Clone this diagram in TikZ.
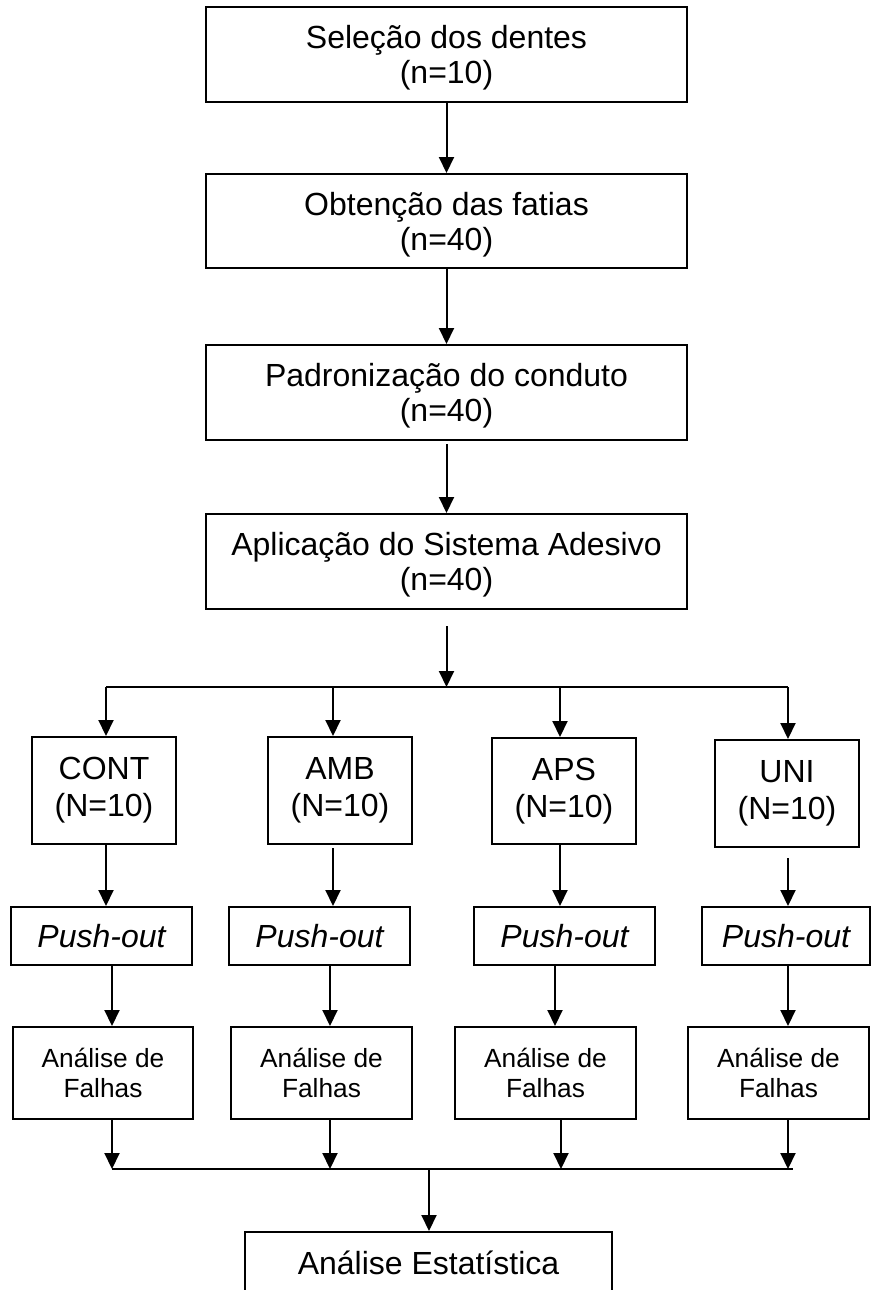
\documentclass[tikz,border=0pt]{standalone}
\usepackage{fontspec}
\setmainfont{Liberation Sans}
\usetikzlibrary{arrows.meta}
\begin{document}
\begin{tikzpicture}[x=1bp,y=-1bp,
  box/.style={draw=black, line width=2bp, inner sep=0pt, align=center, font=\fontsize{32bp}{37bp}\selectfont},
  mainbox/.style={box, font=\fontsize{32bp}{35bp}\selectfont, text depth=0pt},
  smallbox/.style={box, font=\fontsize{26.3bp}{30.6bp}\selectfont},
  arr/.style={line width=2bp, -{Triangle[width=15bp,length=16bp]}},
  ln/.style={line width=2bp}]
\clip (0,0) rectangle (872,1290);
% main column
\node[mainbox, minimum width=481bp, minimum height=95bp] (b1) at (446.5,54.5) {Seleção dos dentes\\(n=10)};
\node[mainbox, minimum width=481bp, minimum height=94bp] (b2) at (446.5,221) {Obtenção das fatias\\(n=40)};
\node[mainbox, minimum width=481bp, minimum height=95bp] (b3) at (446.5,392.5) {Padronização do conduto\\(n=40)};
\node[mainbox, minimum width=481bp, minimum height=95bp] (b4) at (446.5,561.5) {Aplicação do Sistema Adesivo\\(n=40)};
\draw[arr] (b1) -- (b2);
\draw[arr] (b2) -- (b3);
\draw[arr, shorten <=3bp] (b3) -- (b4);
% split
\coordinate (jt) at (446.5,687);
\coordinate (j1) at (106,687);
\coordinate (j2) at (333,687);
\coordinate (j3) at (560,687);
\coordinate (j4) at (788,687);
\draw[arr, shorten <=16bp] (b4.south) -- (jt);
\draw[ln] (j1) -- (j4);
% groups
\node[box, minimum width=144bp, minimum height=107bp] (g1) at (104,790.5) {CONT\\(N=10)};
\node[box, minimum width=144bp, minimum height=107bp] (g2) at (340,790.5) {AMB\\(N=10)};
\node[box, minimum width=144bp, minimum height=106bp] (g3) at (564,791) {APS\\(N=10)};
\node[box, minimum width=144bp, minimum height=107bp] (g4) at (787,793.5) {UNI\\(N=10)};
\draw[arr] (j1) -- (j1 |- g1.north);
\draw[arr] (j2) -- (j2 |- g2.north);
\draw[arr] (j3) -- (j3 |- g3.north);
\draw[arr] (j4) -- (j4 |- g4.north);
% push-out
\node[box, minimum width=181bp, minimum height=58bp] (p1) at (101.5,936) {\itshape Push-out};
\node[box, minimum width=181bp, minimum height=58bp] (p2) at (319.5,936) {\itshape Push-out};
\node[box, minimum width=181bp, minimum height=58bp] (p3) at (564.5,936) {\itshape Push-out};
\node[box, minimum width=168bp, minimum height=58bp] (p4) at (786,936) {\itshape Push-out};
\draw[arr] (j1 |- g1.south) -- (j1 |- p1.north);
\draw[arr, shorten <=3bp] (j2 |- g2.south) -- (j2 |- p2.north);
\draw[arr] (j3 |- g3.south) -- (j3 |- p3.north);
\draw[arr, shorten <=10bp] (j4 |- g4.south) -- (j4 |- p4.north);
% bottom join coordinates
\coordinate (k1) at (112,1169);
\coordinate (k2) at (330,1169);
\coordinate (k3) at (561,1169);
\coordinate (k3a) at (555,1169);
\coordinate (k4) at (788,1169);
\coordinate (kr) at (793,1169);
\coordinate (km) at (429,1169);
% analise de falhas
\node[smallbox, minimum width=180bp, minimum height=92bp] (a1) at (103,1073) {Análise de\\Falhas};
\node[smallbox, minimum width=181bp, minimum height=92bp] (a2) at (321.5,1073) {Análise de\\Falhas};
\node[smallbox, minimum width=181bp, minimum height=92bp] (a3) at (545.5,1073) {Análise de\\Falhas};
\node[smallbox, minimum width=181bp, minimum height=92bp] (a4) at (778.5,1073) {Análise de\\Falhas};
\draw[arr] (k1 |- p1.south) -- (k1 |- a1.north);
\draw[arr] (k2 |- p2.south) -- (k2 |- a2.north);
\draw[arr] (k3a |- p3.south) -- (k3a |- a3.north);
\draw[arr] (k4 |- p4.south) -- (k4 |- a4.north);
\draw[arr] (k1 |- a1.south) -- (k1);
\draw[arr] (k2 |- a2.south) -- (k2);
\draw[arr] (k3 |- a3.south) -- (k3);
\draw[arr] (k4 |- a4.south) -- (k4);
\draw[ln] (k1) -- (kr);
% final
\node[box, minimum width=367bp, minimum height=62bp] (e) at (428.5,1263) {Análise Estatística};
\draw[arr] (km) -- (km |- e.north);
\end{tikzpicture}
\end{document}
